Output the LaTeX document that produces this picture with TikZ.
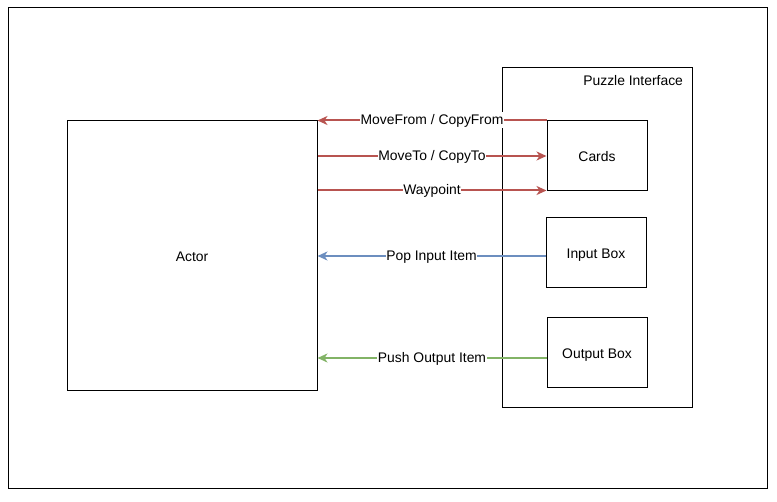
\documentclass[tikz,border=0pt]{standalone}
\usepackage{fontspec}
\setmainfont{Liberation Sans}
\usepackage{tikz}
\usetikzlibrary{arrows.meta,positioning}
\definecolor{dred}{HTML}{B85450}
\definecolor{dblue}{HTML}{6C8EBF}
\definecolor{dgreen}{HTML}{82B366}

\tikzset{
    box/.style={draw=black,line width=1pt,fill=white,inner sep=0pt,text height=13pt,text depth=1pt},
    link/.style={line width=2pt,-{Stealth[length=10pt,width=9pt,inset=3pt]}},
    tag/.style={fill=white,inner sep=0.5pt,text height=12pt,text depth=3pt}
}

\begin{document}
\begin{tikzpicture}[x=1pt,y=-1pt,font=\fontsize{13.9}{16}\selectfont]
\useasboundingbox (0,0) rectangle (777,502);
\draw[line width=1pt] (8,8) rectangle (767,489);
\node[box,minimum width=250pt,minimum height=270pt] (actor) at (192,256) {Actor};
\node[box,minimum width=190pt,minimum height=340pt] (puzzle) at (597,238) {};
\node[anchor=north east] (ptitle) at ([xshift=-6pt,yshift=-4pt]puzzle.north east) {Puzzle Interface};
\node[box,minimum width=100pt,minimum height=70pt] (cards) at (597,156) {Cards};
\node[box,minimum width=100pt,minimum height=70pt] (input) at (596,253) {Input Box};
\node[box,minimum width=100pt,minimum height=70pt] (output) at (597,353) {Output Box};
% connections
\draw[link,dred] (cards.north west) -- (cards.north west -| actor.east)
    node[tag,midway,text=black] {MoveFrom / CopyFrom};
\draw[link,dred] (cards.west -| actor.east) -- (cards.west)
    node[tag,midway,text=black] {MoveTo / CopyTo};
\draw[link,dred] ([yshift=1pt]cards.south west -| actor.east) -- ([yshift=1pt]cards.south west)
    node[tag,midway,text=black] {Waypoint};
\draw[link,dblue] (input.west |- actor.east) -- (actor.east)
    node[tag,midway,text=black] {Pop Input Item};
\draw[link,dgreen] ([yshift=-5pt]output.west) -- ([yshift=-5pt]output.west -| actor.east)
    node[tag,midway,text=black] {Push Output Item};
\end{tikzpicture}
\end{document}
